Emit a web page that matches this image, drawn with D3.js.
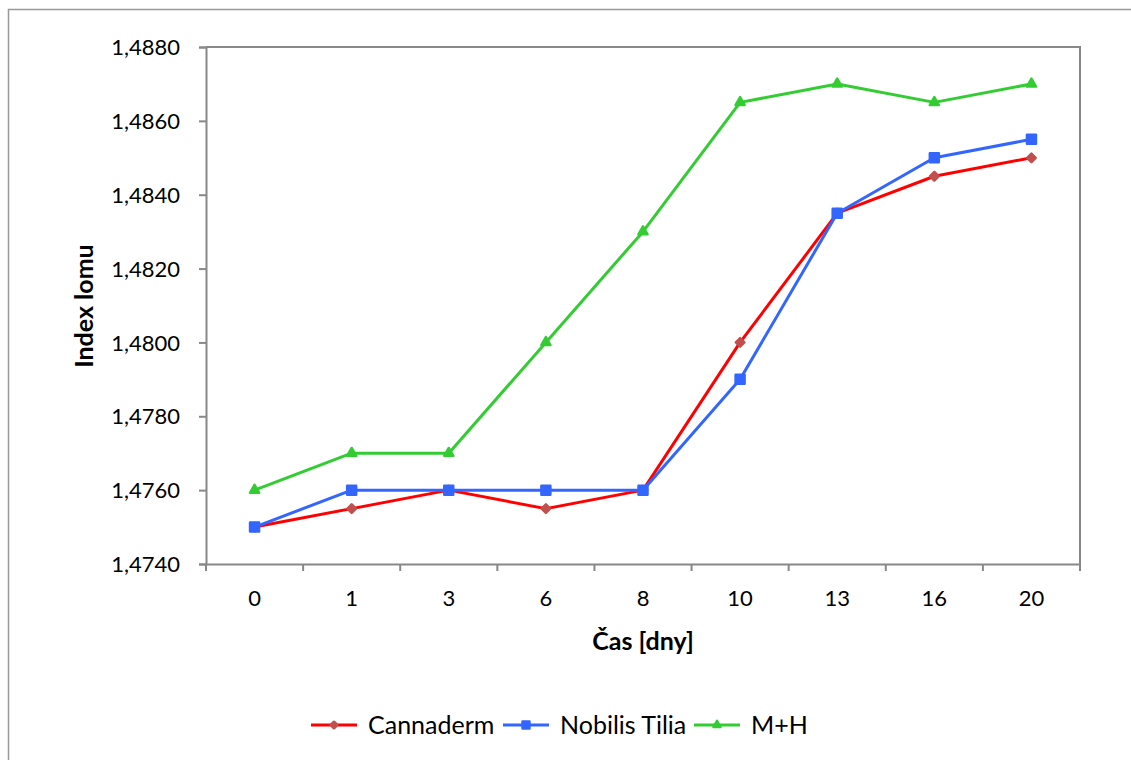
<!DOCTYPE html>
<html>
<head>
<meta charset="utf-8">
<script src="https://cdn.jsdelivr.net/npm/d3@7"></script>
<style>
  html, body { margin: 0; padding: 0; background: #fff; }
  svg { display: block; }
  text { font-family: "Lato", "Open Sans", sans-serif; fill: #000; }
</style>
</head>
<body>
<svg id="chart" width="1131" height="760"></svg>
<script>
// Measurement days
const days = ["0", "1", "3", "6", "8", "10", "13", "16", "20"];

// Refractive index per sample
const cannaderm    = [1.4750, 1.4755, 1.4760, 1.4755, 1.4760, 1.4800, 1.4835, 1.4845, 1.4850];
const nobilisTilia = [1.4750, 1.4760, 1.4760, 1.4760, 1.4760, 1.4790, 1.4835, 1.4850, 1.4855];
const mh           = [1.4760, 1.4770, 1.4770, 1.4800, 1.4830, 1.4865, 1.4870, 1.4865, 1.4870];

const yTicks = [1.4740, 1.4760, 1.4780, 1.4800, 1.4820, 1.4840, 1.4860, 1.4880];

// Marker shapes: diamond is a square turned 45 degrees
const series = [
  { name: "Cannaderm",     values: cannaderm,    line: "#FF0000", marker: "#C0504D", shape: d3.symbolSquare,   size: 36,  rotate: 45 },
  { name: "Nobilis Tilia", values: nobilisTilia, line: "#3366FF", marker: "#3366FF", shape: d3.symbolSquare,   size: 81,  rotate: 0 },
  { name: "M+H",           values: mh,           line: "#33CC33", marker: "#33CC33", shape: d3.symbolTriangle, size: 36,  rotate: 0 }
];

const svg = d3.select("#chart");
const axisColor = "#888888";

// Outer chart frame (extends past the right and bottom edges)
svg.append("rect")
  .attr("x", 8.5).attr("y", 9.5)
  .attr("width", 1200).attr("height", 800)
  .attr("fill", "none").attr("stroke", "#999").attr("stroke-width", 1.5);

const plot = { left: 206, right: 1080, top: 47, bottom: 564 };

const x = d3.scaleBand().domain(days).range([plot.left, plot.right]).paddingInner(0).paddingOuter(0);
const y = d3.scaleLinear().domain([1.4740, 1.4880]).range([plot.bottom, plot.top]);

const fmt = v => d3.format(".4f")(v).replace(".", ",");

// Plot area border (top and right)
svg.append("path")
  .attr("d", `M${plot.left},${plot.top}H${plot.right}V${plot.bottom}`)
  .attr("fill", "none").attr("stroke", axisColor).attr("stroke-width", 2);

// Y axis
const yAxis = svg.append("g")
  .attr("transform", `translate(${plot.left},0)`)
  .call(d3.axisLeft(y).tickValues(yTicks).tickFormat(fmt).tickSize(7).tickPadding(19));
yAxis.select(".domain").attr("stroke", axisColor).attr("stroke-width", 2);
yAxis.selectAll(".tick line").attr("stroke", axisColor).attr("stroke-width", 2);
yAxis.selectAll(".tick text").style("font-size", "22px").attr("dy", "0.35em");

// X axis: ticks sit on category boundaries
const xAxis = svg.append("g")
  .attr("transform", `translate(0,${plot.bottom})`)
  .call(d3.axisBottom(x).tickSize(0).tickPadding(26));
xAxis.select(".domain").attr("stroke", axisColor).attr("stroke-width", 2);
xAxis.selectAll(".tick text").style("font-size", "22px");
const boundaries = days.map(d => x(d)).concat([x(days[days.length - 1]) + x.bandwidth()]);
xAxis.selectAll(".bound").data(boundaries).join("line")
  .attr("class", "bound")
  .attr("x1", d => d).attr("x2", d => d)
  .attr("y1", 0).attr("y2", 7)
  .attr("stroke", axisColor).attr("stroke-width", 2);

// Axis titles
svg.append("text")
  .attr("transform", `translate(93,306) rotate(-90)`)
  .attr("text-anchor", "middle")
  .style("font-size", "25px").style("font-weight", "bold")
  .text("Index lomu");

svg.append("text")
  .attr("x", 643).attr("y", 650)
  .attr("text-anchor", "middle")
  .style("font-size", "25px").style("font-weight", "bold")
  .text("Čas [dny]");

// Series lines and markers
const cx = d => x(d) + x.bandwidth() / 2;
const line = d3.line().x(d => cx(d.day)).y(d => y(d.v));

series.forEach(s => {
  const pts = days.map((day, i) => ({ day, v: s.values[i] }));
  svg.append("path")
    .datum(pts)
    .attr("d", line)
    .attr("fill", "none")
    .attr("stroke", s.line)
    .attr("stroke-width", 3)
    .attr("stroke-linejoin", "round");
  svg.append("g").selectAll("path").data(pts).join("path")
    .attr("transform", d => `translate(${cx(d.day)},${y(d.v)}) rotate(${s.rotate})`)
    .attr("d", d3.symbol().type(s.shape).size(s.size))
    .attr("fill", s.marker)
    .attr("stroke", s.marker)
    .attr("stroke-width", 2.5)
    .attr("stroke-linejoin", "round");
});

// Legend
const legendItems = [
  { s: series[0], x: 311 },
  { s: series[1], x: 503 },
  { s: series[2], x: 694 }
];
const ly = 725;
legendItems.forEach(({ s, x: lx }) => {
  const g = svg.append("g");
  g.append("line")
    .attr("x1", lx).attr("x2", lx + 46)
    .attr("y1", ly).attr("y2", ly)
    .attr("stroke", s.line).attr("stroke-width", 3);
  g.append("path")
    .attr("transform", `translate(${lx + 23},${ly}) rotate(${s.rotate})`)
    .attr("d", d3.symbol().type(s.shape).size(s.size * 0.6))
    .attr("fill", s.marker).attr("stroke", s.marker).attr("stroke-width", 2.5)
    .attr("stroke-linejoin", "round");
  g.append("text")
    .attr("x", lx + 57).attr("y", ly)
    .attr("dy", "0.35em")
    .style("font-size", "25px")
    .text(s.name);
});
</script>
</body>
</html>
